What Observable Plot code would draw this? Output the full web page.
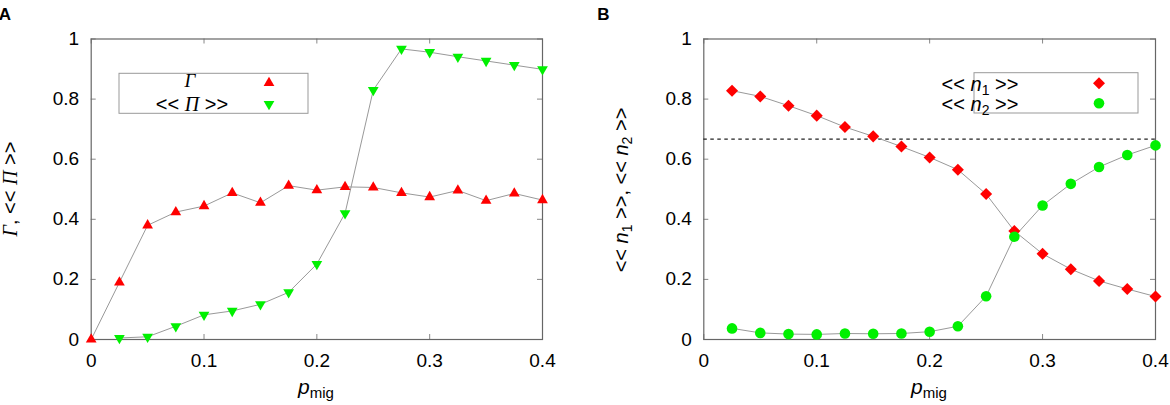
<!DOCTYPE html>
<html><head><meta charset="utf-8">
<script src="https://cdn.jsdelivr.net/npm/d3@7"></script>
<script src="https://cdn.jsdelivr.net/npm/@observablehq/plot@0.6"></script>
<style>
body{margin:0;background:#fff;}
#wrap{position:relative;width:1170px;height:405px;background:#fff;}
#wrap svg{position:absolute;top:0;}
text{white-space:pre;}
</style></head><body><div id="wrap"></div>
<script>
// ---- data ----
const pmigA = [0, 0.025, 0.05, 0.075, 0.1, 0.125, 0.15, 0.175, 0.2, 0.225, 0.25, 0.275, 0.3, 0.325, 0.35, 0.375, 0.4];
const gammaVals = [0, 0.19, 0.38, 0.424, 0.444, 0.488, 0.455, 0.512, 0.497, 0.508, 0.506, 0.488, 0.474, 0.496, 0.462, 0.486, 0.464];
const pmigPi = [0.025, 0.05, 0.075, 0.1, 0.125, 0.15, 0.175, 0.2, 0.225, 0.25, 0.275, 0.3, 0.325, 0.35, 0.375, 0.4];
const piVals = [0.005, 0.009, 0.044, 0.082, 0.095, 0.117, 0.157, 0.251, 0.42, 0.83, 0.967, 0.956, 0.941, 0.927, 0.913, 0.899];
const pmigB = [0.025, 0.05, 0.075, 0.1, 0.125, 0.15, 0.175, 0.2, 0.225, 0.25, 0.275, 0.3, 0.325, 0.35, 0.375, 0.4];
const n1Vals = [0.828, 0.809, 0.778, 0.745, 0.707, 0.676, 0.642, 0.606, 0.565, 0.484, 0.361, 0.285, 0.234, 0.195, 0.168, 0.143];
const n2Vals = [0.037, 0.022, 0.018, 0.017, 0.02, 0.019, 0.02, 0.026, 0.044, 0.144, 0.342, 0.446, 0.518, 0.574, 0.614, 0.646];
const refLevel = [2 / 3];
const xTicks = [0, 0.1, 0.2, 0.3, 0.4];
const yTicks = [0, 0.2, 0.4, 0.6, 0.8, 1];

const gammaData = pmigA.map((x, i) => ({x, y: gammaVals[i]}));
const piData = pmigPi.map((x, i) => ({x, y: piVals[i]}));
const n1Data = pmigB.map((x, i) => ({x, y: n1Vals[i]}));
const n2Data = pmigB.map((x, i) => ({x, y: n2Vals[i]}));

const RED = "#ff0000", GREEN = "#00f000", LINE = "#999";
const SANS = "'Liberation Sans', Arial, sans-serif";
const SERIF = "'Liberation Serif', 'Times New Roman', serif";
const fmt = d => String(+d.toFixed(2));
const W = 585, H = 405, MT = 38.5, MB = 66;

function panel(ml, mr, marks) {
  const fh = H - MT - MB, fw = W - ml - mr;
  return Plot.plot({
    width: W, height: H,
    marginLeft: ml, marginRight: mr, marginTop: MT, marginBottom: MB,
    x: {domain: [0, 0.4]}, y: {domain: [0, 1]},
    style: {fontFamily: SANS, fontSize: "19px", background: "white", color: "black", overflow: "visible"},
    marks: [
      Plot.tickX(xTicks, {x: d => d, insetTop: fh - 5, stroke: "#888"}),
      Plot.tickX(xTicks, {x: d => d, insetBottom: fh - 5, stroke: "#888"}),
      Plot.tickY(yTicks, {y: d => d, insetRight: fw - 5, stroke: "#888"}),
      Plot.tickY(yTicks, {y: d => d, insetLeft: fw - 5, stroke: "#888"}),
      Plot.frame({stroke: "#666", strokeWidth: 1.2}),
      Plot.axisX(xTicks, {tickSize: 0, tickPadding: 14, tickFormat: fmt, label: null}),
      Plot.axisY(yTicks, {tickSize: 0, tickPadding: 12, tickFormat: fmt, label: null}),
      ...marks
    ]
  });
}

const triSize = 50, circSize = Math.PI * 5.3 * 5.3;
const rTri = Math.sqrt(triSize / Math.PI);

// ---- Panel A ----
const svgA = panel(90.7, 43, [
  Plot.line(gammaData, {x: "x", y: "y", stroke: LINE, strokeWidth: 1}),
  Plot.line(piData, {x: "x", y: "y", stroke: LINE, strokeWidth: 1}),
  Plot.dot(gammaData, {x: "x", y: "y", symbol: "triangle", r: rTri, fill: RED}),
  Plot.dot(piData, {x: "x", y: "y", symbol: "triangle", r: rTri, fill: GREEN, rotate: 180})
]);
svgA.style.left = "0px";

// ---- Panel B ----
const svgB = panel(118.3, 15, [
  Plot.ruleY(refLevel, {stroke: "#222", strokeWidth: 1.2, strokeDasharray: "3.5,3.5"}),
  Plot.line(n1Data, {x: "x", y: "y", stroke: LINE, strokeWidth: 1}),
  Plot.line(n2Data, {x: "x", y: "y", stroke: LINE, strokeWidth: 1}),
  Plot.dot(n1Data, {x: "x", y: "y", symbol: "square", r: 4.8, fill: RED, rotate: 45}),
  Plot.dot(n2Data, {x: "x", y: "y", symbol: "circle", r: 5.3, fill: GREEN})
]);
svgB.style.left = "585px";

const wrap = document.getElementById("wrap");
wrap.appendChild(svgA);
wrap.appendChild(svgB);

// ---- annotations ----
function xLabel(s, cx) {
  const t = s.append("text").attr("x", cx).attr("y", 394).attr("text-anchor", "middle").style("font-size", "21px").attr("fill", "black");
  t.append("tspan").attr("font-style", "italic").text("p");
  t.append("tspan").attr("font-size", "15px").attr("dy", "4").text("mig");
}
function panelLetter(s, x, txt) {
  s.append("text").attr("x", x).attr("y", 20).attr("font-weight", "bold").style("font-size", "17px").attr("fill", "black").text(txt);
}

const sA = d3.select(svgA);
panelLetter(sA, 5, "A");
xLabel(sA, 316);
{
  const t = sA.append("text").attr("transform", "translate(17,189) rotate(-90)").attr("text-anchor", "middle").style("font-size", "20px").attr("fill", "black");
  t.append("tspan").attr("font-family", SERIF).attr("font-style", "italic").text("Γ");
  t.append("tspan").text(", << ");
  t.append("tspan").attr("font-family", SERIF).attr("font-style", "italic").text("Π");
  t.append("tspan").text(" >>");
  // legend
  const g = sA.append("g");
  g.append("rect").attr("x", 119).attr("y", 73.3).attr("width", 189).attr("height", 40).attr("fill", "white").attr("stroke", "#999").attr("stroke-width", 1);
  g.append("text").attr("x", 190).attr("y", 86.5).attr("text-anchor", "middle").attr("font-family", SERIF).attr("font-style", "italic").style("font-size", "19px").attr("fill", "black").text("Γ");
  const t2 = g.append("text").attr("x", 192).attr("y", 110.7).attr("text-anchor", "middle").style("font-size", "20px").attr("fill", "black");
  t2.append("tspan").text("<< ");
  t2.append("tspan").attr("font-family", SERIF).attr("font-style", "italic").text("Π");
  t2.append("tspan").text(" >>");
  g.append("path").attr("d", d3.symbol(d3.symbolTriangle, triSize)()).attr("transform", "translate(269,83)").attr("fill", RED);
  g.append("path").attr("d", d3.symbol(d3.symbolTriangle, triSize)()).attr("transform", "translate(269,104) rotate(180)").attr("fill", GREEN);
}

const sB = d3.select(svgB);
panelLetter(sB, 18.5, "B");
xLabel(sB, 929 - 585);
{
  const t = sB.append("text").attr("transform", "translate(43,190) rotate(-90)").attr("text-anchor", "middle").style("font-size", "20px").attr("fill", "black");
  t.append("tspan").text("<< ");
  t.append("tspan").attr("font-style", "italic").text("n");
  t.append("tspan").attr("font-size", "14px").attr("dy", "4").text("1");
  t.append("tspan").attr("dy", "-4").text(" >>, << ");
  t.append("tspan").attr("font-style", "italic").text("n");
  t.append("tspan").attr("font-size", "14px").attr("dy", "4").text("2");
  t.append("tspan").attr("dy", "-4").text(" >>");
  const g = sB.append("g");
  g.append("rect").attr("x", 974 - 585).attr("y", 72.7).attr("width", 164).attr("height", 40.3).attr("fill", "white").attr("stroke", "#999").attr("stroke-width", 1);
  const rows = [["1", 90.5], ["2", 110.5]];
  for (const [k, y] of rows) {
    const tt = g.append("text").attr("x", 980 - 585).attr("y", y).style("font-size", "20px").attr("fill", "black");
    tt.append("tspan").text("<< ");
    tt.append("tspan").attr("font-style", "italic").text("n");
    tt.append("tspan").attr("font-size", "14px").attr("dy", "4").text(k);
    tt.append("tspan").attr("dy", "-4").text(" >>");
  }
  g.append("path").attr("d", d3.symbol(d3.symbolSquare, Math.PI * 4.8 * 4.8)()).attr("transform", `translate(${1099 - 585},83.3) rotate(45)`).attr("fill", RED);
  g.append("path").attr("d", d3.symbol(d3.symbolCircle, circSize)()).attr("transform", `translate(${1099 - 585},103.3)`).attr("fill", GREEN);
}
</script></body></html>
